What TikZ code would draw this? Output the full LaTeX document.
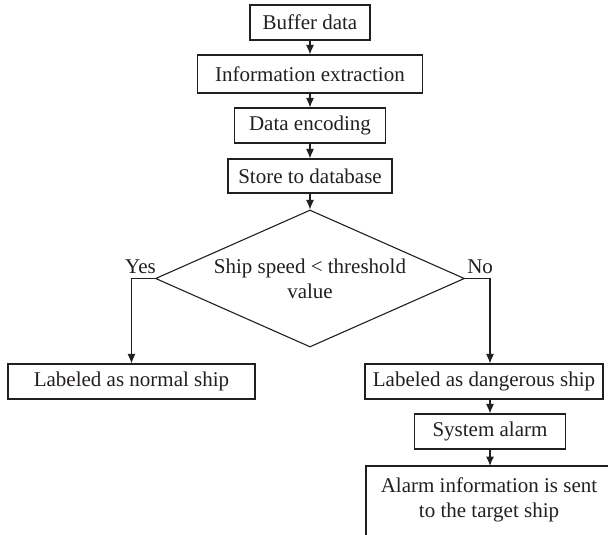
\documentclass[tikz,border=0pt]{standalone}
\usepackage{fontspec}
\setmainfont{Liberation Serif}
\usetikzlibrary{arrows.meta,shapes.geometric}
\definecolor{ink}{HTML}{231F20}
\begin{document}
\begin{tikzpicture}[x=1pt,y=-1pt,
  every node/.style={font=\fontsize{21}{25}\selectfont, text=ink},
  box/.style={draw=ink, line width=1.1pt, rectangle, inner sep=0pt},
  decision/.style={draw=ink, line width=1.1pt, diamond, aspect=2.255, inner sep=0pt,
    align=center, minimum width=309pt, minimum height=137pt},
  arr/.style={draw=ink, line width=1.1pt, -{Latex[length=9.5pt,width=8pt]}},
  edge/.style={draw=ink, line width=1.1pt},
  lbl/.style={inner sep=0pt}]
\useasboundingbox (0,0) rectangle (608,535);
\clip (0,0) rectangle (608,535);

\node[box, minimum width=120pt, minimum height=35pt] (buf) at (310,22.5) {Buffer data};
\node[box, minimum width=225pt, minimum height=38pt] (info) at (310,74) {Information extraction};
\node[box, minimum width=151pt, minimum height=35pt] (enc) at (310,125.5) {Data encoding};
\node[box, minimum width=164pt, minimum height=34pt] (store) at (310,176) {Store to database};
\node[decision] (dec) at (310,278.5) {Ship speed < threshold\\value};
\node[box, minimum width=247pt, minimum height=35pt] (normal) at (131.5,381.5) {Labeled as normal ship};
\node[box, minimum width=238pt, minimum height=35pt] (danger) at (484,381.5) {Labeled as dangerous ship};
\node[box, minimum width=151pt, minimum height=35pt] (alarm) at (490,431.5) {System alarm};

\coordinate (sendTL) at (366,466);
\coordinate (sendBR) at (614,545);
\draw[edge] (sendTL) rectangle (sendBR);
\node[align=center, inner sep=0pt] (send) at (489,499.5) {Alarm information is sent\\to the target ship};

\node[lbl, anchor=base east] (yes) at ([xshift=1pt,yshift=5pt]dec.west) {Yes};
\node[lbl, anchor=base west] (no) at ([xshift=2pt,yshift=5pt]dec.east) {No};

\draw[arr] (buf) -- (info);
\draw[arr] (info) -- (enc);
\draw[arr] (enc) -- (store);
\draw[arr] (store) -- (dec);
\draw[arr] (dec.west) -| (normal.north);
\draw[arr] (dec.east) -| (danger.north -| alarm.north);
\draw[arr] (alarm.north |- danger.south) -- (alarm.north);
\draw[arr] (alarm.south) -- (alarm.south |- sendTL);
\end{tikzpicture}
\end{document}
